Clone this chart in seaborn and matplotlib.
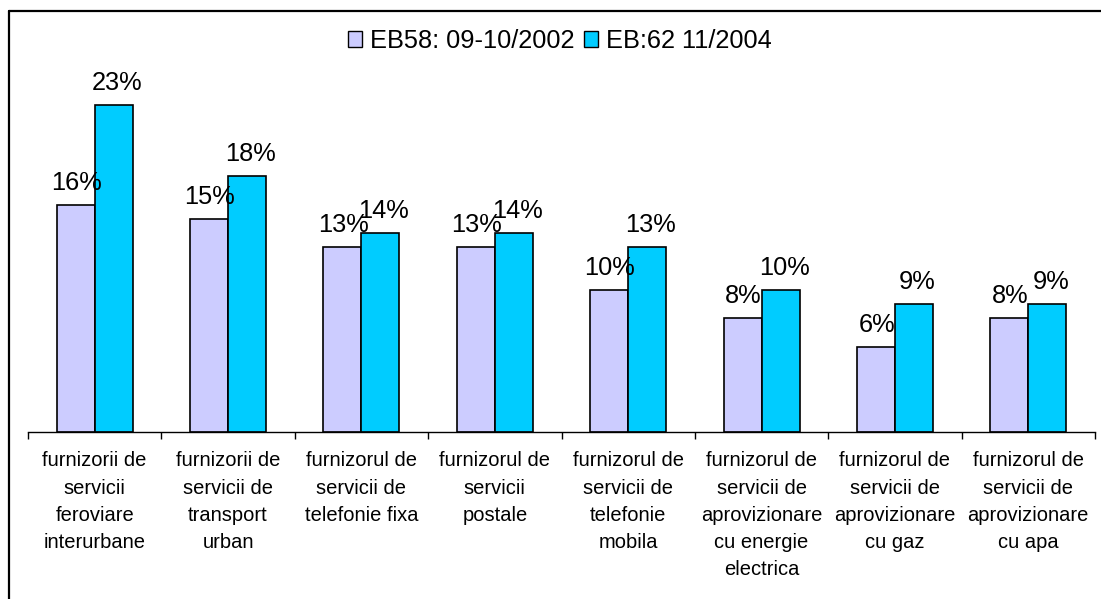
import pandas as pd
import numpy as np
import matplotlib
matplotlib.use("Agg")
import matplotlib.pyplot as plt
from matplotlib.lines import Line2D
from matplotlib.ticker import FixedLocator
import seaborn as sns

categories = [
    "furnizorii de\nservicii\nferoviare\ninterurbane",
    "furnizorii de\nservicii de\ntransport\nurban",
    "furnizorul de\nservicii de\ntelefonie fixa",
    "furnizorul de\nservicii\npostale",
    "furnizorul de\nservicii de\ntelefonie\nmobila",
    "furnizorul de\nservicii de\naprovizionare\ncu energie\nelectrica",
    "furnizorul de\nservicii de\naprovizionare\ncu gaz",
    "furnizorul de\nservicii de\naprovizionare\ncu apa",
]
series_names = ["EB58: 09-10/2002", "EB:62 11/2004"]
eb58 = [16, 15, 13, 13, 10, 8, 6, 8]
eb62 = [23, 18, 14, 14, 13, 10, 9, 9]
colors = ["#CCCCFF", "#00CCFF"]

df = pd.DataFrame({
    "categorie": categories * 2,
    "valoare": eb58 + eb62,
    "serie": [series_names[0]] * len(eb58) + [series_names[1]] * len(eb62),
})

sns.set_style("white")
plt.rcParams["font.family"] = ["Liberation Sans", "DejaVu Sans"]
plt.rcParams["text.color"] = "black"
plt.rcParams["xtick.color"] = "black"
plt.rcParams["xtick.labelcolor"] = "black"

W, H = 1101, 599
fig = plt.figure(figsize=(W / 100, H / 100), dpi=100)
ax = fig.add_axes([28 / W, 1 - 432 / H, (1095 - 28) / W, 355 / H])

sns.barplot(data=df, x="categorie", y="valoare", hue="serie", palette=colors,
            width=0.57, edgecolor="black", linewidth=1.2, saturation=1,
            ax=ax, legend=True)

# value labels (slightly right of bar centre, like the original)
for cont, dx in zip(ax.containers, [0.5, 2.5]):
    for bar in cont:
        h = bar.get_height()
        ax.annotate(f"{h:.0f}%", (bar.get_x() + bar.get_width() / 2, h),
                    xytext=(dx, 11), textcoords="offset points",
                    ha="center", va="baseline", fontsize=18.3, color="black")

ax.set_xlim(-0.5, len(categories) - 0.5)
ax.set_ylim(0, 25)
ax.set_xlabel("")
ax.set_ylabel("")
ax.set_yticks([])
for s in ["left", "top", "right"]:
    ax.spines[s].set_visible(False)
ax.spines["bottom"].set_linewidth(1.0)
ax.spines["bottom"].set_color("black")

ax.tick_params(axis="x", which="major", length=0, pad=14, labelsize=14.5)
ax.xaxis.set_minor_locator(FixedLocator(np.arange(-0.5, len(categories), 1.0)))
ax.tick_params(axis="x", which="minor", length=5, width=1, color="black",
               direction="out", bottom=True)
for lbl in ax.get_xticklabels():
    lbl.set_linespacing(1.55)
    lbl.set_color("black")

ax.get_legend().remove()
handles = [plt.Rectangle((0, 0), 1, 1, facecolor=c, edgecolor="black", linewidth=1)
           for c in colors]
fig.legend(handles, series_names, loc="center", bbox_to_anchor=(560 / W, 1 - 41 / H),
           ncol=2, frameon=False, fontsize=18.3, handlelength=0.55, handleheight=0.55,
           handletextpad=0.3, columnspacing=0.4, labelcolor="black")

# outer frame (left and top visible)
fig.add_artist(Line2D([9 / W, 9 / W], [0, 1 - 11 / H], color="black", linewidth=1.6))
fig.add_artist(Line2D([9 / W, 1], [1 - 11 / H, 1 - 11 / H], color="black", linewidth=1.6))

fig.savefig("out.png", dpi=100)
